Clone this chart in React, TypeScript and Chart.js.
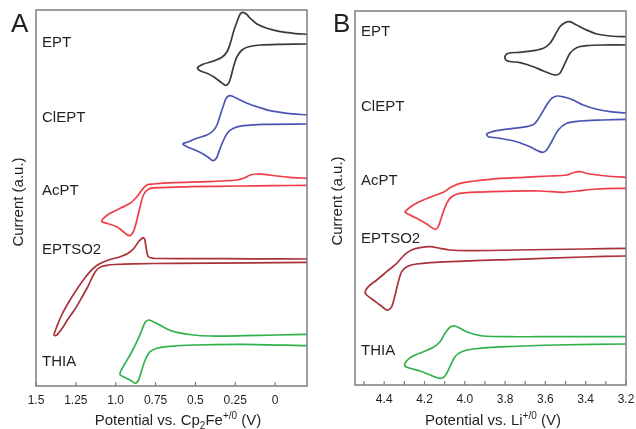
import React, { useEffect, useRef } from 'react';
import { Chart, registerables } from 'chart.js';

Chart.register(...registerables);

const FONT = "'Liberation Sans', Arial, Helvetica, sans-serif";
const TEXT = '#231f20';
const FRAME = '#7d7d7d';

const CURVE_NAMES = ['EPT', 'ClEPT', 'AcPT', 'EPTSO2', 'THIA'];
const CURVE_COLORS = ['#3a3a3a', '#4a55b3', '#ee3d47', '#a9323a', '#33b14c'];

// ---------- Panel A : potential vs. Cp2Fe+/0 (V) ----------
const A_TICKS = [0, 0.25, 0.5, 0.75, 1, 1.25, 1.5];
const A_TICK_LABELS = ['0', '0.25', '0.5', '0.75', '1.0', '1.25', '1.5'];

const A_EPT_E = [-0.2, -0.116, -0.033, 0.051, 0.114, 0.156, 0.181, 0.202, 0.219, 0.239, 0.261, 0.281, 0.302, 0.334, 0.386, 0.449, 0.481, 0.487, 0.47, 0.428, 0.386, 0.344, 0.313, 0.292, 0.277, 0.261, 0.239, 0.208, 0.166, 0.093, -0.033, -0.2];
const A_EPT_I = [351.7, 352.7, 354.3, 357.7, 362, 367.7, 372, 373.7, 372, 364.3, 354.3, 342.7, 334.3, 328.7, 325, 322, 319.3, 317.7, 315.3, 312.7, 309.3, 304.3, 300.7, 302.7, 309.3, 319.3, 329.3, 336, 339.3, 341, 341.7, 342];

const A_CLEPT_E = [-0.2, -0.075, 0.03, 0.114, 0.177, 0.229, 0.261, 0.286, 0.307, 0.323, 0.344, 0.365, 0.39, 0.428, 0.491, 0.543, 0.579, 0.553, 0.501, 0.449, 0.411, 0.39, 0.369, 0.349, 0.323, 0.298, 0.261, 0.198, 0.072, -0.2];
const A_CLEPT_I = [271, 272.7, 275.3, 279.3, 282.7, 286.7, 289.3, 290.3, 287.7, 281, 271, 261, 255, 251, 247.7, 244.3, 242, 239.3, 236, 231.7, 227.7, 225.3, 227.7, 236, 246, 253.3, 257.7, 260.3, 261.7, 262];

const A_ACPT_E = [-0.2, -0.095, -0.012, 0.072, 0.114, 0.156, 0.198, 0.239, 0.428, 0.638, 0.763, 0.805, 0.836, 0.867, 0.91, 0.972, 1.035, 1.077, 1.087, 1.056, 0.993, 0.952, 0.914, 0.889, 0.867, 0.847, 0.826, 0.795, 0.742, 0.533, 0.219, 0.009, -0.2];
const A_ACPT_I = [207.7, 208.7, 210, 211.7, 212, 211, 207.7, 206, 204.3, 203.3, 202, 201, 196, 189.3, 182.7, 177.7, 172.7, 167.7, 164.3, 162.7, 159.3, 154.3, 150.3, 154.3, 166, 179.3, 191, 196.7, 198.3, 199.3, 200, 200.3, 200.7];

const A_EPTSO2_E = [-0.2, 0.156, 0.47, 0.721, 0.763, 0.795, 0.809, 0.817, 0.826, 0.836, 0.857, 0.884, 0.922, 0.972, 1.035, 1.077, 1.119, 1.161, 1.203, 1.255, 1.305, 1.339, 1.368, 1.384, 1.387, 1.374, 1.36, 1.33, 1.299, 1.255, 1.211, 1.173, 1.14, 1.117, 1.087, 1.056, 1.004, 0.889, 0.638, 0.156, -0.2];
const A_EPTSO2_I = [127, 127.2, 127.4, 127.5, 127.7, 129.3, 138, 146, 148.3, 147.5, 144.3, 138, 132.7, 129.3, 126.5, 124, 120.5, 114.3, 106, 94, 81, 71, 60, 53, 51, 50.5, 52.7, 59, 67, 77, 89, 100, 111, 116.5, 119.5, 120.7, 121.5, 122.2, 122.7, 123.2, 123.7];

const A_THIA_E = [-0.2, -0.012, 0.198, 0.407, 0.512, 0.616, 0.679, 0.732, 0.773, 0.795, 0.815, 0.836, 0.867, 0.91, 0.941, 0.968, 0.972, 0.952, 0.91, 0.878, 0.857, 0.836, 0.815, 0.784, 0.742, 0.679, 0.512, 0.198, -0.2];
const A_THIA_I = [51.7, 51, 50.3, 50, 51, 53.7, 57, 61.7, 65, 66, 63.7, 56, 44.3, 31, 22.7, 15, 11, 9.3, 6, 2.7, 6, 16, 26, 34.3, 37.7, 39.3, 41, 41.7, 40.3];

// ---------- Panel B : potential vs. Li+/0 (V) ----------
const B_TICKS = [3.2, 3.3, 3.4, 3.5, 3.6, 3.7, 3.8, 3.9, 4.0, 4.1, 4.2, 4.3, 4.4, 4.5];
const B_TICK_LABELS = ['3.2', '', '3.4', '', '3.6', '', '3.8', '', '4.0', '', '4.2', '', '4.4', ''];

const B_EPT_E = [3.2, 3.279, 3.345, 3.404, 3.445, 3.478, 3.503, 3.528, 3.552, 3.577, 3.61, 3.66, 3.726, 3.784, 3.801, 3.792, 3.726, 3.66, 3.61, 3.569, 3.547, 3.528, 3.503, 3.478, 3.445, 3.395, 3.313, 3.2];
const B_EPT_I = [348.3, 349, 351, 355.7, 360, 363.3, 362.3, 358.3, 350, 341.7, 336.7, 334.3, 332.7, 331.7, 328.3, 324.3, 322.3, 318.3, 314, 310.7, 310, 311.7, 321.7, 331.7, 337.3, 339.3, 340, 340];

const B_CLEPT_E = [3.2, 3.279, 3.345, 3.412, 3.462, 3.503, 3.541, 3.569, 3.594, 3.618, 3.652, 3.693, 3.759, 3.842, 3.891, 3.883, 3.825, 3.743, 3.677, 3.635, 3.613, 3.594, 3.569, 3.536, 3.494, 3.428, 3.313, 3.2];
const B_CLEPT_I = [272, 273.3, 275.7, 280, 285, 287.7, 289, 286.7, 280, 271.7, 261.7, 258.3, 256.7, 254.3, 251, 248.3, 246.7, 243.3, 238.3, 234, 232.7, 235, 243.3, 255, 261.7, 264, 265, 265.7];

const B_ACPT_E = [3.2, 3.296, 3.379, 3.428, 3.462, 3.494, 3.577, 3.71, 3.875, 4.008, 4.065, 4.107, 4.156, 4.206, 4.256, 4.288, 4.297, 4.28, 4.239, 4.189, 4.148, 4.132, 4.115, 4.09, 4.065, 4.024, 3.875, 3.627, 3.511, 3.445, 3.345, 3.2];
const B_ACPT_I = [207.7, 209, 211, 213.3, 212.3, 210, 209, 207.7, 205.7, 202.3, 198.3, 192.7, 189, 185, 180, 175, 173, 170.7, 166.7, 161, 155.7, 158.3, 168.3, 181.7, 188.3, 191.7, 193.3, 194, 192.7, 194, 196, 196.7];

const B_EPTSO2_E = [3.2, 3.412, 3.743, 3.991, 4.074, 4.123, 4.173, 4.222, 4.264, 4.297, 4.338, 4.388, 4.437, 4.479, 4.495, 4.487, 4.454, 4.421, 4.396, 4.38, 4.363, 4.346, 4.33, 4.313, 4.288, 4.239, 4.074, 3.743, 3.412, 3.2];
const B_EPTSO2_I = [136.7, 136, 135, 134.3, 135, 136.7, 138.3, 137.3, 135, 130.7, 121.7, 113.3, 105, 98.3, 92.7, 90, 85, 80, 76, 75, 78.3, 90, 103.3, 113.3, 118.3, 121, 123.3, 125.7, 128, 129];

const B_THIA_E = [3.2, 3.379, 3.627, 3.792, 3.908, 3.958, 3.991, 4.024, 4.049, 4.074, 4.098, 4.123, 4.156, 4.206, 4.264, 4.292, 4.297, 4.272, 4.222, 4.164, 4.123, 4.098, 4.074, 4.049, 4.015, 3.958, 3.792, 3.544, 3.2];
const B_THIA_I = [48.3, 48.3, 48.3, 48.3, 49, 51, 53.3, 56.7, 59, 57.7, 51.7, 43.3, 37.7, 33.3, 28.3, 23.3, 19, 16.7, 14, 9.3, 6.7, 9, 18.3, 28.3, 33.3, 36, 38.3, 40, 41];

type Part = { t: string; size: number; dy: number };

type PanelCfg = {
  letter: string;
  letterX: number;
  curves: { e: number[]; i: number[] }[];
  ticks: number[];
  tickLabels: string[];
  xMin: number;
  xMax: number;
  yMax: number;
  padding: { left: number; right: number; top: number; bottom: number };
  axisHeight: number;
  labelY: number[];
  yTitleX: number;
  yTitleY: number;
  title: Part[];
  titleCX: number;
  titleBaseline: number;
};

const PANEL_A: PanelCfg = {
  letter: 'A',
  letterX: 11,
  curves: [
    { e: A_EPT_E, i: A_EPT_I },
    { e: A_CLEPT_E, i: A_CLEPT_I },
    { e: A_ACPT_E, i: A_ACPT_I },
    { e: A_EPTSO2_E, i: A_EPTSO2_I },
    { e: A_THIA_E, i: A_THIA_I },
  ],
  ticks: A_TICKS,
  tickLabels: A_TICK_LABELS,
  xMin: -0.2,
  xMax: 1.5,
  yMax: 376,
  padding: { left: 36, right: 11, top: 10, bottom: 0 },
  axisHeight: 43,
  labelY: [47, 122, 195, 254, 366],
  yTitleX: 19,
  yTitleY: 202,
  title: [
    { t: 'Potential vs. Cp', size: 15, dy: 0 },
    { t: '2', size: 10, dy: 4 },
    { t: 'Fe', size: 15, dy: 0 },
    { t: '+/0', size: 10, dy: -6 },
    { t: ' (V)', size: 15, dy: 0 },
  ],
  titleCX: 178,
  titleBaseline: 425,
};

const PANEL_B: PanelCfg = {
  letter: 'B',
  letterX: 15,
  curves: [
    { e: B_EPT_E, i: B_EPT_I },
    { e: B_CLEPT_E, i: B_CLEPT_I },
    { e: B_ACPT_E, i: B_ACPT_I },
    { e: B_EPTSO2_E, i: B_EPTSO2_I },
    { e: B_THIA_E, i: B_THIA_I },
  ],
  ticks: B_TICKS,
  tickLabels: B_TICK_LABELS,
  xMin: 3.2,
  xMax: 4.545,
  yMax: 374,
  padding: { left: 37, right: 10, top: 11, bottom: 0 },
  axisHeight: 44,
  labelY: [36, 111, 185, 243, 355],
  yTitleX: 20,
  yTitleY: 201,
  title: [
    { t: 'Potential vs. Li', size: 15, dy: 0 },
    { t: '+/0', size: 10, dy: -6 },
    { t: ' (V)', size: 15, dy: 0 },
  ],
  titleCX: 175,
  titleBaseline: 425,
};

function decorPlugin(cfg: PanelCfg) {
  return {
    id: 'decor' + cfg.letter,
    afterDraw(chart: any) {
      const { ctx, chartArea: ca, scales } = chart;
      ctx.save();
      // frame
      ctx.strokeStyle = FRAME;
      ctx.lineWidth = 1.5;
      ctx.strokeRect(ca.left, ca.top, ca.right - ca.left, ca.bottom - ca.top);
      // inward tick marks
      const xs = scales.x;
      ctx.lineWidth = 1.2;
      ctx.beginPath();
      xs.ticks.forEach((t: any) => {
        const px = xs.getPixelForValue(t.value);
        ctx.moveTo(px, ca.bottom);
        ctx.lineTo(px, ca.bottom - 4);
      });
      ctx.stroke();
      // curve labels
      ctx.fillStyle = TEXT;
      ctx.textAlign = 'left';
      ctx.textBaseline = 'alphabetic';
      ctx.font = `15px ${FONT}`;
      CURVE_NAMES.forEach((n, k) => ctx.fillText(n, ca.left + 6, cfg.labelY[k]));
      // panel letter
      ctx.font = `26px ${FONT}`;
      ctx.fillText(cfg.letter, cfg.letterX, 32);
      // y title
      ctx.save();
      ctx.translate(cfg.yTitleX, cfg.yTitleY);
      ctx.rotate(-Math.PI / 2);
      ctx.textAlign = 'center';
      ctx.textBaseline = 'middle';
      ctx.font = `15px ${FONT}`;
      ctx.fillText('Current (a.u.)', 0, 0);
      ctx.restore();
      // x title with sub/superscripts
      let total = 0;
      cfg.title.forEach((p) => {
        ctx.font = `${p.size}px ${FONT}`;
        total += ctx.measureText(p.t).width;
      });
      let x = cfg.titleCX - total / 2;
      ctx.textAlign = 'left';
      ctx.textBaseline = 'alphabetic';
      cfg.title.forEach((p) => {
        ctx.font = `${p.size}px ${FONT}`;
        ctx.fillText(p.t, x, cfg.titleBaseline + p.dy);
        x += ctx.measureText(p.t).width;
      });
      ctx.restore();
    },
  };
}

function Panel({ cfg }: { cfg: PanelCfg }) {
  const ref = useRef<HTMLCanvasElement>(null);
  useEffect(() => {
    const canvas = ref.current;
    if (!canvas) return;
    const chart = new Chart(canvas, {
      type: 'line',
      data: {
        datasets: cfg.curves.map((c, k) => ({
          label: CURVE_NAMES[k],
          data: c.e.map((e, j) => ({ x: e, y: c.i[j] })),
          borderColor: CURVE_COLORS[k],
          backgroundColor: CURVE_COLORS[k],
          borderWidth: 1.7,
          pointRadius: 0,
          tension: 0.3,
          fill: false,
        })),
      },
      options: {
        responsive: false,
        animation: false,
        events: [],
        layout: { padding: cfg.padding },
        plugins: { legend: { display: false }, tooltip: { enabled: false }, title: { display: false } },
        scales: {
          x: {
            type: 'linear',
            reverse: true,
            min: cfg.xMin,
            max: cfg.xMax,
            grid: { display: false, drawTicks: false, tickLength: 0 },
            border: { display: false },
            afterBuildTicks: (scale: any) => {
              scale.ticks = cfg.ticks.map((value) => ({ value }));
            },
            afterFit: (scale: any) => {
              scale.height = cfg.axisHeight;
            },
            ticks: {
              autoSkip: false,
              maxRotation: 0,
              padding: 7,
              color: TEXT,
              font: { family: FONT, size: 12 },
              callback: (_v: any, idx: number) => cfg.tickLabels[idx],
            },
          },
          y: {
            type: 'linear',
            display: false,
            min: 0,
            max: cfg.yMax,
          },
        },
      },
      plugins: [decorPlugin(cfg)],
    } as any);
    return () => chart.destroy();
  }, [cfg]);
  return <canvas ref={ref} width={318} height={429} style={{ display: 'block' }} />;
}

export default function App() {
  return (
    <div style={{ position: 'fixed', left: 0, top: 0, width: 636, height: 429, background: '#fff', display: 'flex' }}>
      <Panel cfg={PANEL_A} />
      <Panel cfg={PANEL_B} />
    </div>
  );
}
